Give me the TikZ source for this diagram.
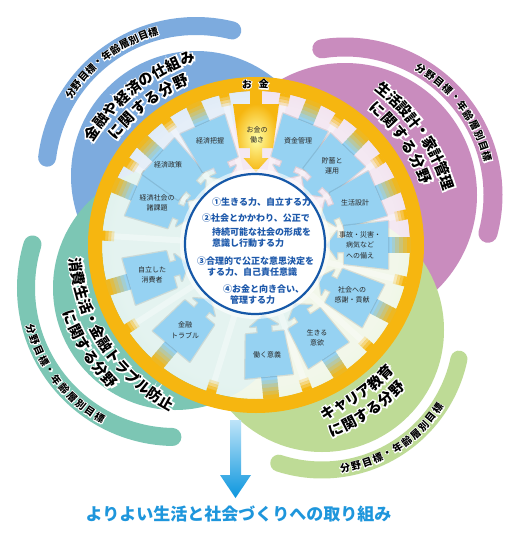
\documentclass[tikz,border=0pt]{standalone}
\usepackage{fontspec}
\setmainfont{Noto Sans CJK JP}
\usetikzlibrary{calc,fadings}

\definecolor{lblue}{RGB}{125,171,222}
\definecolor{lpink}{RGB}{201,140,190}
\definecolor{lgreen}{RGB}{190,219,150}
\definecolor{lteal}{RGB}{124,198,180}
\definecolor{ringor}{RGB}{246,182,16}
\definecolor{arrblue}{RGB}{150,210,242}
\definecolor{circborder}{RGB}{22,88,168}
\definecolor{circtext}{RGB}{28,88,170}
\definecolor{circglow}{RGB}{185,224,246}
\definecolor{bottomblue}{RGB}{30,150,220}
\definecolor{arrtop}{RGB}{190,228,248}
\definecolor{arrbot}{RGB}{12,150,222}
\definecolor{labeltext}{RGB}{40,40,40}

\pgfdeclareradialshading{circshade}{\pgfpoint{0bp}{0bp}}{color(0bp)=(white); color(30bp)=(white); color(50bp)=(circglow)}
\pgfdeclareradialshading{annshadeF}{\pgfpoint{0bp}{0bp}}{color(0bp)=(white!80!black); color(23bp)=(white!80!black); color(50bp)=(white!40!black)}
\pgfdeclarefading{annfade}{\pgfuseshading{annshadeF}}

\def\halofb{20}
\newcommand\halonode[3]{%
  \node[#2,text=white] at (#1) {\addfontfeatures{FakeBold=\halofb}#3};%
  \node[#2] at (#1) {#3};}

\newcommand\arcword[7]{%
  \foreach \chr [count=\idx from 0] in {#7}{%
    \pgfmathsetmacro\angA{#3+\idx*(#4)}%
    \pgfmathsetmacro\rotA{\angA+(#5)}%
    \coordinate (tmpc) at ($(#1)+(\angA:#2)$);%
    \halonode{tmpc}{#6,rotate=\rotA}{\chr}%
  }}

\newcommand\blarrow[1]{%
  \begin{scope}[shift={(O)}, rotate=#1]
    \foreach \kk/\pcv in {0/100,1/85,2/65,3/45,4/25,5/8}{%
      \fill[arrblue!\pcv!ringor] ({132+3.7*\kk},-8) rectangle ({136.3+3.7*\kk},8);}
    \draw[black, opacity=.10, line width=2.5, line join=round, arrshape];
    \fill[arrblue, arrshape];
  \end{scope}}

\newcommand\spoke[1]{%
  \begin{scope}[shift={(O)}, rotate=#1]
    \fill[white, opacity=.35] (74,-3) rectangle (150,3);
    \foreach \kk/\op in {0/.25,1/.5,2/.75,3/1}{%
      \fill[ringor, opacity=\op] ({142+3*\kk},-5) rectangle ({145.3+3*\kk},5);}
  \end{scope}}

\begin{document}
\begin{tikzpicture}[x=1pt,y=1pt,
  titlefont/.style={font=\fontsize{14.5}{14.5}\selectfont\bfseries, inner sep=0, text=black},
  bandfont/.style={font=\fontsize{10}{10}\selectfont\bfseries, inner sep=0, text=black},
  ringfont/.style={font=\fontsize{10}{10}\selectfont\bfseries, inner sep=0, text=black},
  lbl/.style={font=\fontsize{7}{10.5}\selectfont, align=center, inner sep=0, text=labeltext},
  ctext/.style={font=\fontsize{9}{11}\selectfont\bfseries, inner sep=0, text=circtext, anchor=west},
  arrshape/.style={insert path={(132,24) -- (88,19) -- (88,7) -- (81,7) -- (81,14) -- (71,0) -- (81,-14) -- (81,-7) -- (88,-7) -- (88,-19) -- (132,-24) -- cycle}},
  band/.style={line width=#1, line cap=round},
]
\useasboundingbox (0,0) rectangle (516,-536);
\fill[white] (0,0) rectangle (516,-536);

\coordinate (O) at (256,-245);
\coordinate (Cb) at (196,-176);
\coordinate (Cp) at (345,-195);
\coordinate (Cg) at (322,-330);
\coordinate (Ct) at (175,-288);

% lobes
\fill[lblue] (Cb) circle[radius=125];
\fill[lpink] (Cp) circle[radius=132];
\fill[lgreen] (Cg) circle[radius=122];
\fill[lteal] (Ct) circle[radius=122];

% outer bands
\draw[lblue, band=18] ($(Cb)+(76:150)$) arc[start angle=76, end angle=173, radius=150];
\draw[lpink, band=19] ($(Cp)+(-15:148)$) arc[start angle=-15, end angle=99, radius=148];
\draw[lteal, band=18] ($(Ct)+(163:149)$) arc[start angle=163, end angle=269, radius=149];
\draw[lgreen, band=17] ($(Cg)+(252:140)$) arc[start angle=252, end angle=348, radius=140];

% titles
\def\halofb{20}
\arcword{O}{199}{145.8}{-4.45}{-90}{titlefont}{金,融,や,経,済,の,仕,組,み}
\arcword{O}{180}{140.9}{-5.24}{-90}{titlefont}{に,関,す,る,分,野}
\arcword{O}{201}{50.4}{-4.03}{-90}{titlefont}{生,活,設,計,・,家,計,管,理}
\arcword{O}{182}{48.3}{-5.22}{-90}{titlefont}{に,関,す,る,分,野}
\arcword{O}{181}{186.3}{4.52}{90}{titlefont}{消,費,生,活,・,金,融,ト,ラ,ブ,ル,防,止}
\arcword{O}{199.5}{201.4}{4.28}{90}{titlefont}{に,関,す,る,分,野}
\arcword{O}{182}{-66.7}{4.42}{90}{titlefont}{キ,ャ,リ,ア,教,育}
\arcword{O}{201}{-66.6}{4.2}{90}{titlefont}{に,関,す,る,分,野}

% band texts
\def\halofb{16}
\arcword{Cb}{150}{146.6}{-4.0}{-90}{bandfont}{分,野,目,標,・,年,齢,層,別,目,標}
\arcword{Cp}{147}{59.1}{-4.4}{-90}{bandfont}{分,野,目,標,・,年,齢,層,別,目,標}
\arcword{Ct}{150}{195.9}{4.39}{90}{bandfont}{分,野,目,標,・,年,齢,層,別,目,標}
\arcword{Cg}{140}{-80.5}{4.64}{90}{bandfont}{分,野,目,標,・,年,齢,層,別,目,標}

% pale overlay inside the ring
\fill[white, path fading=annfade] (O) circle[radius=154];

% spokes
\foreach \a in {79,57,34.5,11.5,-13.75,-42,-70.5,-107,-147,176.5,147.3,125.8,102}{\spoke{\a}}

% ring
\fill[ringor, even odd rule] (O) circle[radius=168] (O) circle[radius=154];

% arrows
\foreach \a in {68,46,23,0,-27.5,-56.7,-84.3,-129.9,196.1,157,137.7,113.9}{\blarrow{\a}}
\begin{scope}[shift={(O)}, rotate=90]
  \fill[ringor] (140,-6) rectangle (154.5,6);
  \shade[inner color=white!65!yellow, outer color=ringor] (141,23) -- (97,17) -- (97,6) -- (87,6) -- (87,12.5) -- (73,0) -- (87,-12.5) -- (87,-6) -- (97,-6) -- (97,-17) -- (141,-23) -- cycle;
\end{scope}

% labels
\node[lbl] (a0) at (257,-135) {お金の\\働き};
\node[lbl] (a1) at (298,-141) {資金管理};
\node[lbl] (a2) at (332,-166) {貯蓄と\\運用};
\node[lbl] (a3) at (355,-203) {生活設計};
\node[lbl] (a4) at (360,-245) {事故・災害・\\病気など\\への備え};
\node[lbl] (a5) at (352,-295) {社会への\\感謝・貢献};
\node[lbl] (a6) at (317,-338) {生きる\\意欲};
\node[lbl] (a7) at (267,-355) {働く意義};
\node[lbl] (a8) at (185,-330) {金融\\トラブル};
\node[lbl] (a9) at (152,-275) {自立した\\消費者};
\node[lbl] (a10) at (157,-203) {経済社会の\\諸課題};
\node[lbl] (a11) at (168,-165) {経済政策};
\node[lbl] (a12) at (210,-141) {経済把握};

% centre circle
\draw[white, line width=4, opacity=.6] (255,-244) circle[radius=73];
\shadedraw[shading=circshade, draw=circborder, line width=2.2] (255,-244) circle[radius=70];
\node[ctext] (t1) at (212,-202) {①生きる力、自立する力};
\node[ctext] (t2) at (202,-218) {②社会とかかわり、公正で};
\node[ctext] (t3) at (212,-232) {持続可能な社会の形成を};
\node[ctext] (t4) at (212,-243) {意識し行動する力};
\node[ctext] (t5) at (197,-261) {③合理的で公正な意思決定を};
\node[ctext] (t6) at (207,-272) {する力、自己責任意識};
\node[ctext] (t7) at (223,-289) {④お金と向き合い、};
\node[ctext] (t8) at (230,-300) {管理する力};

% ring words
\def\halofb{16}
\coordinate (ok1) at ($(O)+(93.2:161)$);
\coordinate (ok2) at ($(O)+(87.2:161)$);
\halonode{ok1}{ringfont,rotate=3.2}{お}
\halonode{ok2}{ringfont,rotate=-2.8}{金}

% bottom arrow and goal
\shade[top color=arrtop, bottom color=arrbot] (230,-420) -- (241,-420) -- (241,-475) -- (251,-475) -- (235.5,-498) -- (220,-475) -- (230,-475) -- cycle;
\node[font=\fontsize{17}{17}\selectfont\bfseries, text=bottomblue, inner sep=0] (goal) at (238.5,-514) {よりよい生活と社会づくりへの取り組み};
\end{tikzpicture}
\end{document}
